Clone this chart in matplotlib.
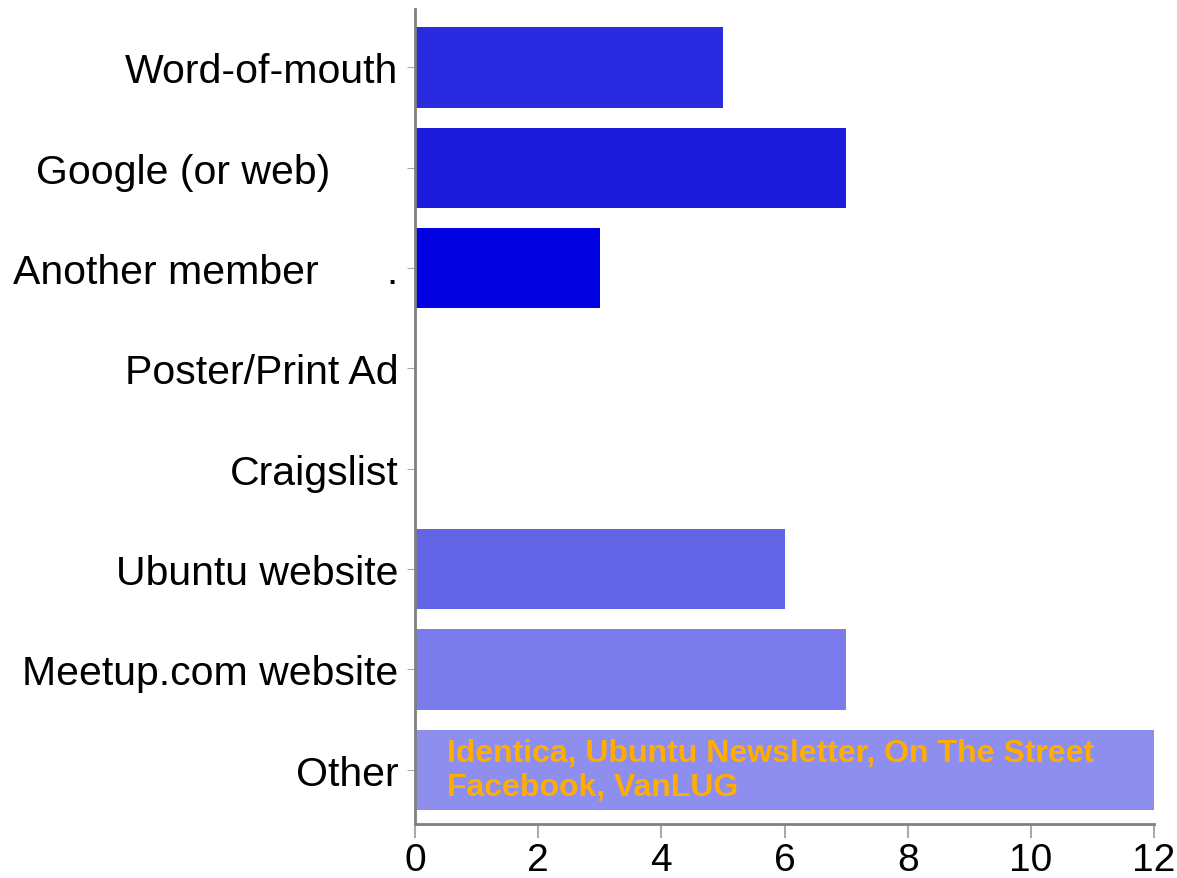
import matplotlib
matplotlib.use("Agg")
import matplotlib.pyplot as plt

# How members heard about the group
categories = [
    "Word-of-mouth",
    "Google (or web)      ",
    "Another member      .",
    "Poster/Print Ad",
    "Craigslist",
    "Ubuntu website",
    "Meetup.com website",
    "Other",
]
counts = [5, 7, 3, 0, 0, 6, 7, 12]
bar_colors = ["#2a2ae0", "#1c1cdc", "#0000e0", "#3a3ae4", "#4a4ae6",
              "#6464e6", "#7b7beb", "#8e8eef"]
other_note = "Identica, Ubuntu Newsletter, On The Street\nFacebook, VanLUG"
x_ticks = [0, 2, 4, 6, 8, 10, 12]


def plot_chart(output_path: str) -> None:
    plt.rcParams["font.family"] = ["Liberation Sans", "DejaVu Sans"]
    fig = plt.figure(figsize=(11.77, 8.79), dpi=100)
    ax = fig.add_axes([0.3526, 0.0614, 0.628, 0.927])

    ypos = list(range(len(categories)))
    ax.barh(ypos, counts, height=0.8, color=bar_colors)

    ax.set_ylim(7.54, -0.58)
    ax.set_xlim(0, 12)
    ax.set_yticks(ypos)
    ax.set_yticklabels(categories, fontsize=29.5)
    ax.set_xticks(x_ticks)
    ax.set_xticklabels([str(t) for t in x_ticks], fontsize=28)

    for side in ("top", "right"):
        ax.spines[side].set_visible(False)
    for side in ("left", "bottom"):
        ax.spines[side].set_color("#808080")
        ax.spines[side].set_linewidth(2)
    ax.tick_params(axis="y", length=6, color="#aaaaaa", pad=6)
    ax.tick_params(axis="x", length=10, color="#aaaaaa", width=1.5, pad=3)

    ax.text(0.52, 7, other_note, color="#ffae00", fontsize=23,
            fontweight="bold", va="center", ha="left", linespacing=1.15)

    fig.savefig(output_path, dpi=100)


def main():
    plot_chart("out.png")


if __name__ == "__main__":
    main()
